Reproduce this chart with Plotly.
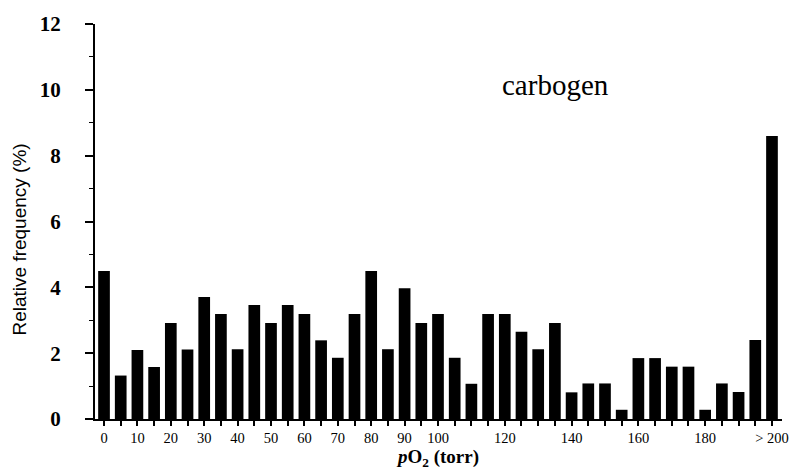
import plotly.graph_objects as go

# pO2 bins (torr), 5-torr wide, plus the >200 bin
bins = [str(v) for v in range(0, 200, 5)] + ["> 200"]
freq = [4.5, 1.32, 2.10, 1.58, 2.92, 2.11, 3.71, 3.19, 2.12, 3.46,
        2.92, 3.46, 3.19, 2.39, 1.86, 3.19, 4.5, 2.12, 3.97, 2.92,
        3.19, 1.86, 1.07, 3.19, 3.19, 2.65, 2.12, 2.92, 0.81, 1.08,
        1.08, 0.28, 1.85, 1.85, 1.59, 1.59, 0.28, 1.08, 0.82, 2.40,
        8.6]
shown_labels = ["0", "10", "20", "30", "40", "50", "60", "70", "80", "90",
                "100", "120", "140", "160", "180", "> 200"]

idx = list(range(len(bins)))
label_idx = [i for i, b in enumerate(bins) if b in shown_labels]
label_txt = [bins[i] for i in label_idx]

W, H = 807, 476
L, R, T, B = 95, 25, 17, 54
pw, ph = W - L - R, H - T - B

fig = go.Figure(go.Bar(x=idx, y=freq, marker=dict(color="black", line=dict(width=0)),
                       width=0.7))

fig.update_layout(
    width=W, height=H,
    margin=dict(l=L, r=R, t=T, b=B),
    plot_bgcolor="white", paper_bgcolor="white",
    showlegend=False,
    font=dict(family="Liberation Serif", color="black"),
)
fig.update_xaxes(
    range=[-0.54, 40.6], tickmode="array", tickvals=label_idx, ticktext=label_txt,
    ticks="outside", ticklen=5, tickwidth=1.5, tickcolor="black",
    minor=dict(tick0=0, dtick=1, ticks="outside", ticklen=5, tickwidth=1.5,
               tickcolor="black", showgrid=False),
    showline=True, linecolor="black", linewidth=2, showgrid=False, zeroline=False,
    tickfont=dict(family="Liberation Serif", size=14.5), tickangle=0,
    title=dict(text="<b><i>p</i>O<sub>2</sub> (torr)</b>", standoff=4,
               font=dict(family="Liberation Serif", size=19)),
)
fig.update_yaxes(
    range=[0, 12], dtick=2, ticks="outside", ticklen=8, tickwidth=1.5, tickcolor="black",
    minor=dict(dtick=1, ticks="outside", ticklen=4, tickcolor="black", tickwidth=1),
    showline=True, linecolor="black", linewidth=2, showgrid=False, zeroline=False,
    tickfont=dict(family="Liberation Serif", size=21, weight="bold"),
    ticklabelstandoff=20,
)
# y-axis title (placed explicitly: it sits below the axis centre in the reference)
fig.add_annotation(text="Relative frequency (%)", textangle=-90,
                   x=(20 - L) / pw, y=1 - (238 - T) / ph, xref="paper", yref="paper",
                   xanchor="center", yanchor="middle", showarrow=False,
                   font=dict(family="Liberation Sans", size=19))
fig.add_annotation(text="carbogen",
                   x=(555 - L) / pw, y=1 - (80 - T) / ph, xref="paper", yref="paper",
                   xanchor="center", yanchor="middle", showarrow=False,
                   font=dict(family="Liberation Serif", size=29))

fig.write_html("out.html")
